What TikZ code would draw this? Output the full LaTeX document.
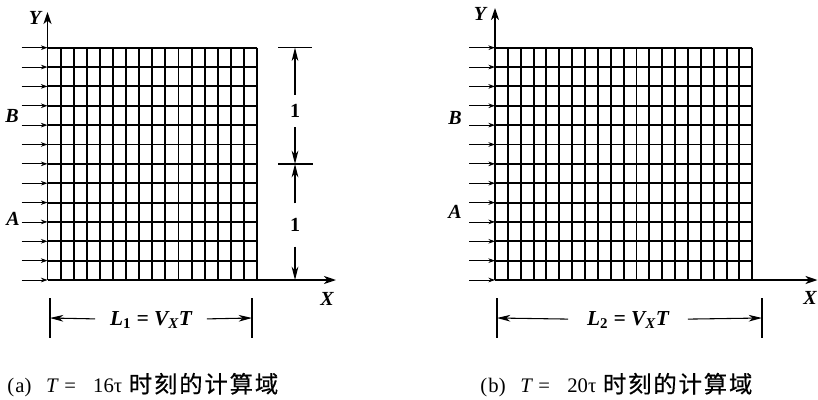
\documentclass[tikz,border=0pt]{standalone}
\usepackage{fontspec}
\setmainfont{Liberation Serif}
\newfontfamily\cjk{Noto Sans CJK SC}[LetterSpace=8, FakeBold=0.5]
\usetikzlibrary{arrows.meta}
\tikzset{
  gridline/.style={line width=1.45pt},
  axisline/.style={line width=1.2pt, -{Stealth[length=9pt,width=6pt,inset=2.5pt]}},
  inflow/.style={line width=0.6pt, -{Stealth[length=5pt,width=3.5pt]}},
  dimline/.style={line width=0.8pt},
  dimarr/.style={line width=0.8pt, -{Stealth[length=10pt,width=5pt,inset=3pt]}},
  axislab/.style={font=\fontsize{15}{18}\selectfont\bfseries\itshape, inner sep=0pt},
  dimlab/.style={font=\fontsize{15}{16}\selectfont\bfseries, inner xsep=0pt, inner ysep=7pt},
  lenlab/.style={font=\fontsize{16}{18}\selectfont\bfseries\itshape, inner xsep=11pt, inner ysep=2pt},
  caption/.style={font=\fontsize{15.5}{17}\selectfont, inner sep=0pt, anchor=west}
}
\begin{document}
\begin{tikzpicture}[x=0.75pt,y=-0.75pt]
  \useasboundingbox (0,0) rectangle (818,400);
  % the two grids with inflow arrows
  \foreach \ox/\n/\dx/\w in {47.5/16/13.1/209.6, 495/20/12.865/257.3} {
    \foreach \i in {0,...,\n}
      \draw[gridline] ({\ox+\i*\dx},47.7) -- ({\ox+\i*\dx},280);
    \foreach \j in {0,...,12} {
      \draw[gridline] (\ox,{280-\j*19.36}) -- ({\ox+\w},{280-\j*19.36});
      \draw[inflow] ({\ox-26},{280-\j*19.36}) -- (\ox,{280-\j*19.36});
    }
  }

  % (a) axes and labels
  \coordinate (O1) at (47.5,280);
  \coordinate (Xend1) at (336,280);
  \coordinate (Yend1) at (47.5,12);
  \draw[axisline] (O1) -- (Xend1);
  \draw[axisline] (O1) -- (Yend1);
  \node[axislab] (Y1) at (35,18) {Y};
  \node[axislab] (X1) at (327,299) {X};
  \node[axislab] (B1) at (12,116) {B};
  \node[axislab] (A1) at (13,219) {A};

  % (a) height dimension
  \coordinate (hTop) at (295,47.7);
  \coordinate (hMid) at (295,164);
  \coordinate (hBot) at (295,280);
  \draw[dimline] (278,47.7) -- (312,47.7);
  \draw[dimline] (278,164) -- (313,164);
  \node[dimlab] (h1) at (295,111) {1};
  \node[dimlab, inner ysep=11pt] (h2) at (295,225) {1};
  \draw[dimarr] (h1) -- (hTop);
  \draw[dimarr] (h1) -- (hMid);
  \draw[dimarr] (h2) -- (hMid);
  \draw[dimarr] (h2) -- (hBot);

  % (a) length dimension
  \coordinate (la) at (50,318);
  \coordinate (lb) at (252,318);
  \draw[dimline] (50,298) -- (50,338);
  \draw[dimline] (252,298) -- (252,338);
  \node[lenlab] (L1) at (151,320) {L\textsubscript{\upshape 1} = V\textsubscript{X}T};
  \draw[dimarr] (L1) -- (la);
  \draw[dimarr] (L1) -- (lb);

  % (b) axes and labels
  \coordinate (O2) at (495,280);
  \coordinate (Xend2) at (817.5,280);
  \coordinate (Yend2) at (495,8);
  \draw[axisline] (O2) -- (Xend2);
  \draw[axisline] (O2) -- (Yend2);
  \node[axislab] (Y2) at (480,14) {Y};
  \node[axislab] (X2) at (810,298) {X};
  \node[axislab] (B2) at (455,118) {B};
  \node[axislab] (A2) at (455,212) {A};

  % (b) length dimension
  \coordinate (lc) at (497,318);
  \coordinate (ld) at (762,318);
  \draw[dimline] (497,298) -- (497,338);
  \draw[dimline] (762,298) -- (762,338);
  \node[lenlab, inner xsep=14pt] (L2) at (628,320) {L\textsubscript{\upshape 2} = V\textsubscript{X}T};
  \draw[dimarr] (L2) -- (lc);
  \draw[dimarr] (L2) -- (ld);

  % captions
  \node[caption] (capA) at (7,385) {(\kern1pt a)\kern11pt\textit{T}\kern4pt=\kern13pt 16τ\kern5pt{\cjk\fontsize{17.5}{18}\selectfont 时刻的计算域}};
  \node[caption] (capB) at (480,385) {(\kern1pt b)\kern11pt\textit{T}\kern4pt=\kern13pt 20τ\kern5pt{\cjk\fontsize{17.5}{18}\selectfont 时刻的计算域}};
\end{tikzpicture}
\end{document}
